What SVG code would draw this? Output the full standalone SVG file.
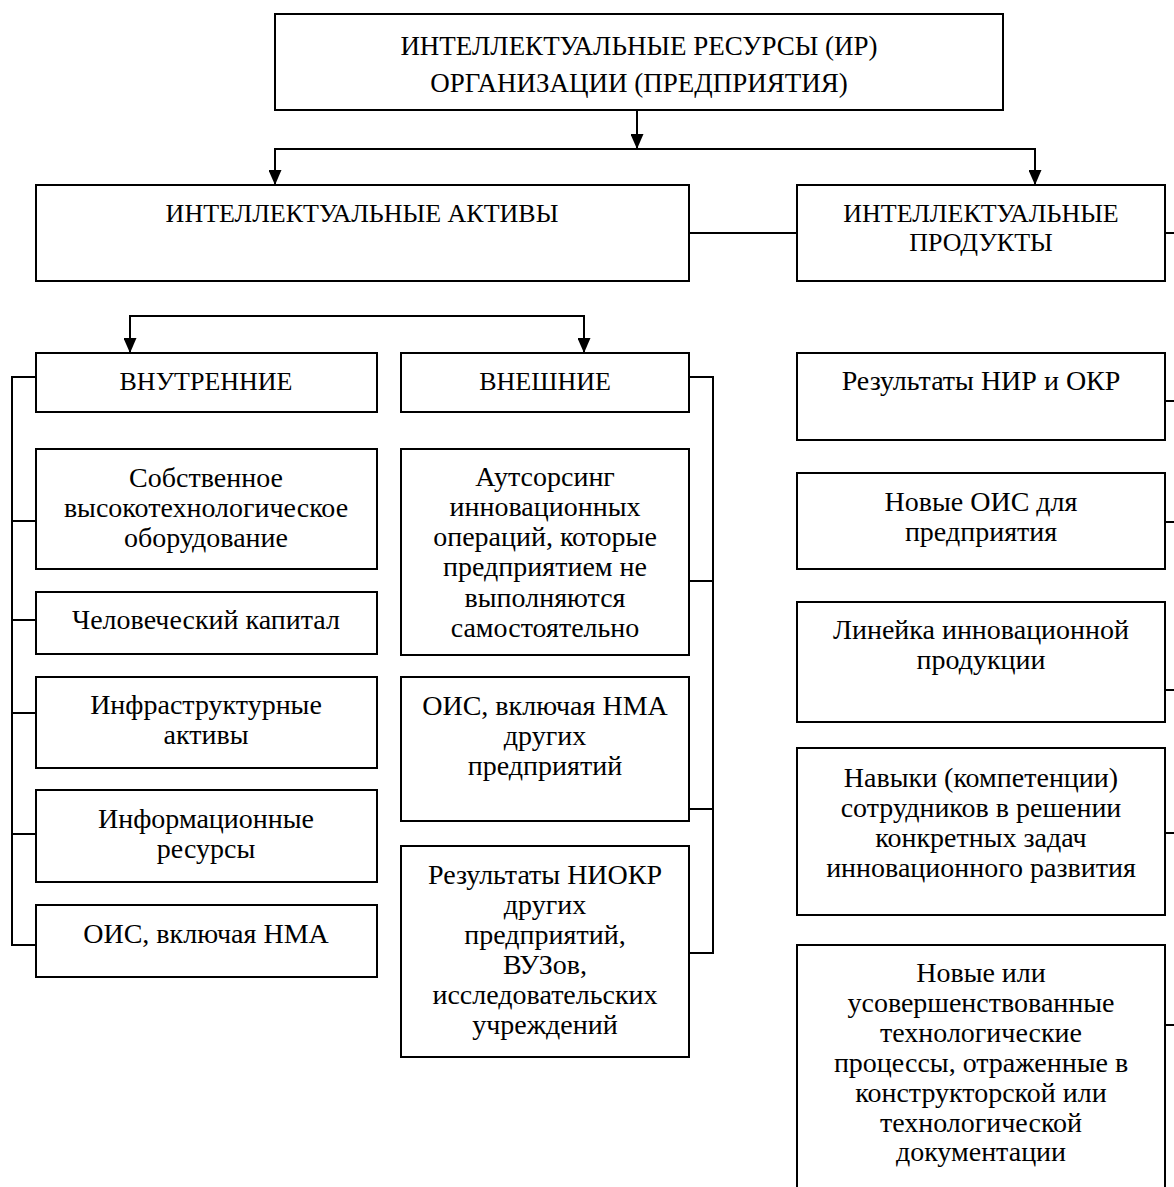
<svg xmlns="http://www.w3.org/2000/svg" width="1174" height="1187" viewBox="0 0 1174 1187">
<style>
  .box { fill: #fff; stroke: #000; stroke-width: 2; }
  .t { font-family: "Liberation Serif", "DejaVu Serif", serif; font-size: 28px; fill: #000; text-anchor: middle; }
  .caps { font-size: 26px; }
  .title { font-size: 27px; }
  .conn { fill: none; stroke: #000; stroke-width: 2; }
</style>
<defs>
  <marker id="arr" markerUnits="userSpaceOnUse" markerWidth="15" markerHeight="13" viewBox="0 0 15 13" refX="15" refY="6.5" orient="auto">
    <path d="M0,0 L15,6.5 L0,13 z" fill="#000"/>
  </marker>
</defs>
<rect width="1174" height="1187" fill="#fff"/>

<g id="connectors">
  <line class="conn" x1="637" y1="110" x2="637" y2="149" marker-end="url(#arr)"/>
  <line class="conn" x1="274" y1="149" x2="1036" y2="149"/>
  <line class="conn" x1="275" y1="149" x2="275" y2="185" marker-end="url(#arr)"/>
  <line class="conn" x1="1035" y1="149" x2="1035" y2="185" marker-end="url(#arr)"/>
  <line class="conn" x1="689" y1="233" x2="797" y2="233"/>
  <line class="conn" x1="1165" y1="233" x2="1176" y2="233"/>
  <line class="conn" x1="129" y1="316" x2="585" y2="316"/>
  <line class="conn" x1="130" y1="316" x2="130" y2="353" marker-end="url(#arr)"/>
  <line class="conn" x1="584" y1="316" x2="584" y2="353" marker-end="url(#arr)"/>
  <path class="conn" d="M36,377 H12 V945 H36 M12,521 H36 M12,620 H36 M12,713 H36 M12,834 H36"/>
  <path class="conn" d="M689,377 H713 V953 H689 M713,581 H689 M713,809 H689"/>
  <path class="conn" d="M1165,401 H1176 M1165,522 H1176 M1165,690 H1176 M1165,833 H1176 M1165,1025 H1176"/>
</g>

<g id="n-root">
  <rect class="box" x="275" y="14" width="728" height="96"/>
  <text class="t title" x="639" y="55">ИНТЕЛЛЕКТУАЛЬНЫЕ РЕСУРСЫ (ИР)</text>
  <text class="t title" x="639" y="92">ОРГАНИЗАЦИИ (ПРЕДПРИЯТИЯ)</text>
</g>
<g id="n-aktivy">
  <rect class="box" x="36" y="185" width="653" height="96"/>
  <text class="t caps" x="362" y="222">ИНТЕЛЛЕКТУАЛЬНЫЕ АКТИВЫ</text>
</g>
<g id="n-produkty">
  <rect class="box" x="797" y="185" width="368" height="96"/>
  <text class="t caps" x="981" y="222">ИНТЕЛЛЕКТУАЛЬНЫЕ</text>
  <text class="t caps" x="981" y="251">ПРОДУКТЫ</text>
</g>
<g id="n-vnutr">
  <rect class="box" x="36" y="353" width="341" height="59"/>
  <text class="t caps" x="206" y="390">ВНУТРЕННИЕ</text>
</g>
<g id="n-vnesh">
  <rect class="box" x="401" y="353" width="288" height="59"/>
  <text class="t caps" x="545" y="390">ВНЕШНИЕ</text>
</g>
<g id="n-oborud">
  <rect class="box" x="36" y="449" width="341" height="120"/>
  <text class="t" x="206" y="487">Собственное</text>
  <text class="t" x="206" y="517">высокотехнологическое</text>
  <text class="t" x="206" y="547">оборудование</text>
</g>
<g id="n-kapital">
  <rect class="box" x="36" y="592" width="341" height="62"/>
  <text class="t" x="206" y="629">Человеческий капитал</text>
</g>
<g id="n-infra">
  <rect class="box" x="36" y="677" width="341" height="91"/>
  <text class="t" x="206" y="714">Инфраструктурные</text>
  <text class="t" x="206" y="744">активы</text>
</g>
<g id="n-inform">
  <rect class="box" x="36" y="790" width="341" height="92"/>
  <text class="t" x="206" y="828">Информационные</text>
  <text class="t" x="206" y="858">ресурсы</text>
</g>
<g id="n-ois">
  <rect class="box" x="36" y="905" width="341" height="72"/>
  <text class="t" x="206" y="943">ОИС, включая НМА</text>
</g>
<g id="n-autsors">
  <rect class="box" x="401" y="449" width="288" height="206"/>
  <text class="t" x="545" y="486">Аутсорсинг</text>
  <text class="t" x="545" y="516">инновационных</text>
  <text class="t" x="545" y="546">операций, которые</text>
  <text class="t" x="545" y="576">предприятием не</text>
  <text class="t" x="545" y="607">выполняются</text>
  <text class="t" x="545" y="637">самостоятельно</text>
</g>
<g id="n-ois-drugih">
  <rect class="box" x="401" y="677" width="288" height="144"/>
  <text class="t" x="545" y="715">ОИС, включая НМА</text>
  <text class="t" x="545" y="745">других</text>
  <text class="t" x="545" y="775">предприятий</text>
</g>
<g id="n-niokr">
  <rect class="box" x="401" y="846" width="288" height="211"/>
  <text class="t" x="545" y="884">Результаты НИОКР</text>
  <text class="t" x="545" y="914">других</text>
  <text class="t" x="545" y="944">предприятий,</text>
  <text class="t" x="545" y="974">ВУЗов,</text>
  <text class="t" x="545" y="1004">исследовательских</text>
  <text class="t" x="545" y="1034">учреждений</text>
</g>
<g id="n-nir">
  <rect class="box" x="797" y="353" width="368" height="87"/>
  <text class="t" x="981" y="390">Результаты НИР и ОКР</text>
</g>
<g id="n-novye-ois">
  <rect class="box" x="797" y="473" width="368" height="96"/>
  <text class="t" x="981" y="511">Новые ОИС для</text>
  <text class="t" x="981" y="541">предприятия</text>
</g>
<g id="n-lineika">
  <rect class="box" x="797" y="602" width="368" height="120"/>
  <text class="t" x="981" y="639">Линейка инновационной</text>
  <text class="t" x="981" y="669">продукции</text>
</g>
<g id="n-navyki">
  <rect class="box" x="797" y="748" width="368" height="167"/>
  <text class="t" x="981" y="787">Навыки (компетенции)</text>
  <text class="t" x="981" y="817">сотрудников в решении</text>
  <text class="t" x="981" y="847">конкретных задач</text>
  <text class="t" x="981" y="877">инновационного развития</text>
</g>
<g id="n-processy">
  <rect class="box" x="797" y="945" width="368" height="260"/>
  <text class="t" x="981" y="982">Новые или</text>
  <text class="t" x="981" y="1012">усовершенствованные</text>
  <text class="t" x="981" y="1042">технологические</text>
  <text class="t" x="981" y="1072">процессы, отраженные в</text>
  <text class="t" x="981" y="1102">конструкторской или</text>
  <text class="t" x="981" y="1132">технологической</text>
  <text class="t" x="981" y="1161">документации</text>
</g>
</svg>
